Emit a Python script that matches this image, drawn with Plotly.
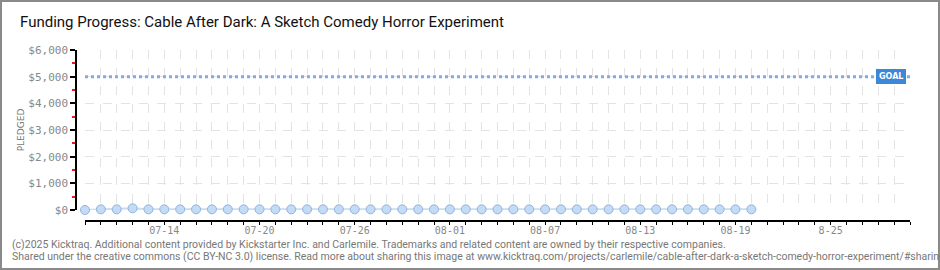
import plotly.graph_objects as go
import pandas as pd

# ---- data ----
dates = pd.date_range("2025-07-09", "2025-08-20", freq="D").strftime("%Y-%m-%d").tolist()
pledged = [0, 25, 25, 65] + [25] * (len(dates) - 4)
goal = 5000
axis_days = pd.date_range("2025-07-09", "2025-08-30", freq="D").strftime("%Y-%m-%d").tolist()
label_days = {"2025-07-14": "07-14", "2025-07-20": "07-20", "2025-07-26": "07-26",
              "2025-08-01": "08-01", "2025-08-07": "08-07", "2025-08-13": "08-13",
              "2025-08-19": "08-19", "2025-08-25": "8-25"}
y_ticks = [0, 1000, 2000, 3000, 4000, 5000, 6000]
y_labels = ["$0", "$1,000", "$2,000", "$3,000", "$4,000", "$5,000", "$6,000"]
title = "Funding Progress: Cable After Dark: A Sketch Comedy Horror Experiment"
footer1 = "(c)2025 Kicktraq. Additional content provided by Kickstarter Inc. and Carlemile. Trademarks and related content are owned by their respective companies."
footer2 = "Shared under the creative commons (CC BY-NC 3.0) license. Read more about sharing this image at www.kicktraq.com/projects/carlemile/cable-after-dark-a-sketch-comedy-horror-experiment/#sharing"

W, H = 940, 270
ml, mr, mt, mb = 76, 30, 50, 49
pw = W - ml - mr
ph = H - mt - mb


def px_x(x):
    return (x - ml) / pw


def px_y(y):
    return (H - mb - y) / ph


fig = go.Figure()
fig.add_trace(go.Scatter(
    x=[axis_days[0], axis_days[-1]], y=[goal, goal], mode="lines",
    line=dict(color="#7fadde", width=3, dash="dot"), hoverinfo="skip", showlegend=False))
fig.add_trace(go.Scatter(
    x=dates, y=pledged, mode="lines+markers", cliponaxis=False,
    line=dict(color="#c6ddf5", width=2),
    marker=dict(size=9, color="#c3dbf6", line=dict(color="#93b3d9", width=1)),
    showlegend=False))

fig.add_annotation(x=axis_days[-1], y=goal, xref="x", yref="y", text="<b>GOAL</b>",
                   xanchor="right", yanchor="middle", xshift=-4, showarrow=False,
                   font=dict(family="DejaVu Sans", size=8, color="white"),
                   bgcolor="#3b88d6", bordercolor="#3b88d6", borderpad=2)

fig.update_layout(
    width=W, height=H, margin=dict(l=ml, r=mr, t=mt, b=mb),
    paper_bgcolor="white", plot_bgcolor="white",
    title=dict(text=title, x=20 / W, xanchor="left", y=1 - 22 / H, yanchor="middle",
               font=dict(family="Roboto", size=15, color="#111")),
    xaxis=dict(
        type="date", domain=[9 / pw, 1], anchor="free", position=0,
        range=[axis_days[0], axis_days[-1]],
        tickvals=axis_days, ticktext=[label_days.get(d, "") for d in axis_days],
        ticks="outside", ticklen=3, tickcolor="black", tickwidth=1,
        ticklabelstandoff=-3,
        showline=True, linecolor="black", linewidth=1.5,
        showgrid=True, gridcolor="#e3e3e3", griddash="dash", gridwidth=1,
        tickfont=dict(family="DejaVu Sans Mono", size=10, color="#888"), zeroline=False),
    yaxis=dict(
        domain=[11 / ph, 1], anchor="free", position=0,
        range=[0, 6000], tickvals=y_ticks, ticktext=y_labels,
        ticks="outside", ticklen=5, tickcolor="black", tickwidth=1.5,
        minor=dict(dtick=500, ticks="outside", ticklen=3, tickcolor="#e02020", tickwidth=1.5, showgrid=False),
        showline=True, linecolor="black", linewidth=1.5,
        showgrid=True, gridcolor="#e3e3e3", griddash="dash", gridwidth=1,
        tickfont=dict(family="DejaVu Sans Mono", size=11, color="#888"), zeroline=False,
        title=dict(text="PLEDGED", font=dict(family="DejaVu Sans", size=9, color="#777"), standoff=1)),
)

fig.add_annotation(x=px_x(10), y=px_y(244), xref="paper", yref="paper", text=footer1,
                   xanchor="left", yanchor="middle", showarrow=False,
                   font=dict(family="Roboto", size=10.5, color="#777"))
fig.add_annotation(x=px_x(10), y=px_y(256), xref="paper", yref="paper", text=footer2,
                   xanchor="left", yanchor="middle", showarrow=False,
                   font=dict(family="Roboto", size=10.5, color="#777"))

fig.add_shape(type="rect", xref="paper", yref="paper",
              x0=px_x(1), x1=px_x(W - 1), y0=px_y(H - 1), y1=px_y(1),
              line=dict(color="#8a8a8a", width=2), fillcolor="rgba(0,0,0,0)")

fig.write_html("out.html")
